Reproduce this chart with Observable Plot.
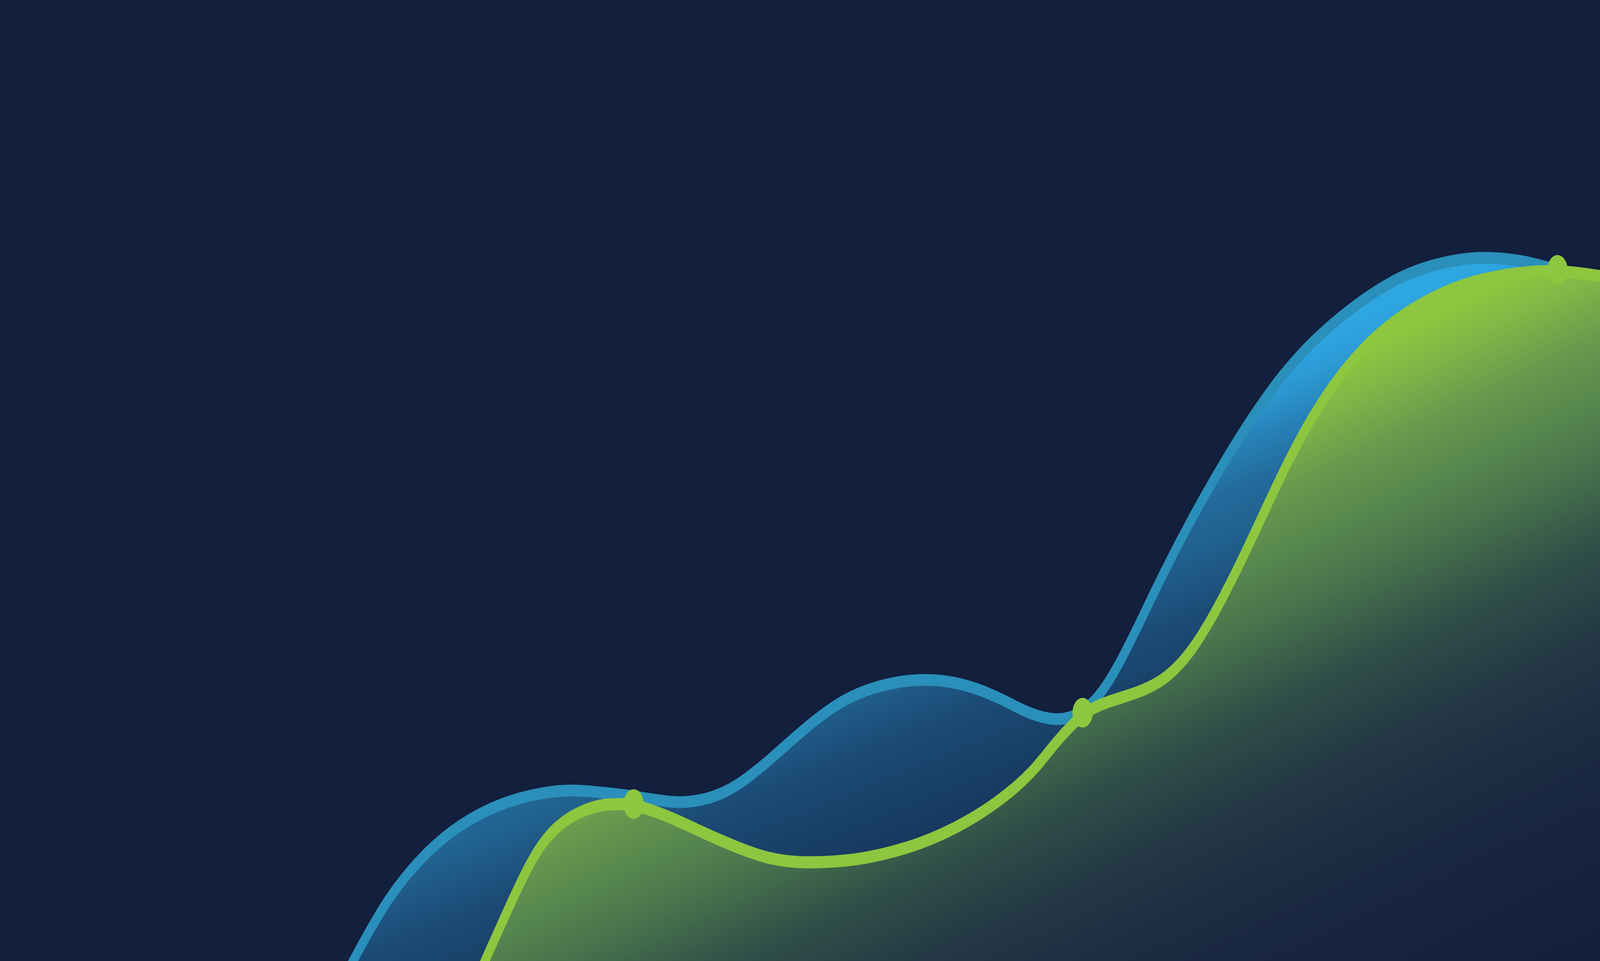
<!DOCTYPE html>
<html>
<head>
<meta charset="utf-8">
<script src="https://cdn.jsdelivr.net/npm/d3@7"></script>
<script src="https://cdn.jsdelivr.net/npm/@observablehq/plot@0.6"></script>
<style>
  html, body { margin: 0; padding: 0; width: 100%; height: 100%; background: #121f3d; overflow: hidden; }
  #chart { width: 100vw; height: 100vh; overflow: hidden; }
  #chart svg { display: block; width: 100vw; height: 100vh; max-width: none; }
</style>
</head>
<body>
<div id="chart"></div>
<script>
// Series "blue" (upper wave)
const blueX = [12.60, 13.27, 14.41, 15.69, 16.96, 18.24, 19.52, 20.79, 21.56, 22.50, 23.78, 25.43, 26.65, 27.60, 28.88, 30.15, 31.43, 32.50, 33.46, 34.67, 36.01, 37.28, 38.24, 38.88, 39.71, 40.47, 41.11, 41.75, 42.50, 43.62, 44.73, 45.85, 46.97, 48.08, 49.20, 50.32, 51.43, 52.55, 53.67, 54.78, 55.79, 57.02, 58.13, 60.01];
const blueY = [-3.25, 0.20, 6.06, 10.57, 13.70, 15.78, 17.08, 17.73, 17.81, 17.57, 17.20, 16.31, 16.92, 18.10, 20.94, 24.20, 26.92, 28.26, 29.00, 29.40, 29.00, 27.69, 26.27, 25.50, 25.01, 25.62, 27.17, 29.77, 33.79, 40.38, 46.28, 51.73, 56.73, 61.04, 64.46, 67.18, 69.46, 71.29, 72.43, 73.08, 73.28, 72.96, 72.18, 70.52];

// Series "green" (lower wave)
const greenX = [17.70, 18.18, 18.88, 19.52, 20.15, 20.79, 21.56, 22.50, 23.14, 23.76, 25.05, 26.33, 27.60, 28.88, 30.15, 31.43, 32.50, 34.41, 36.33, 37.92, 38.88, 39.51, 40.60, 41.43, 42.50, 43.62, 44.73, 45.85, 46.97, 48.08, 49.20, 50.32, 51.43, 52.55, 53.67, 54.78, 55.90, 57.02, 58.41, 60.01];
const greenY = [-2.97, 0, 4.35, 8.26, 11.63, 13.83, 15.37, 16.31, 16.35, 16.35, 15.13, 13.42, 11.87, 10.57, 10.21, 10.37, 10.70, 12.00, 14.48, 17.57, 20.17, 22.53, 25.86, 26.92, 27.78, 29.04, 32.21, 37.66, 44.04, 50.83, 56.73, 61.28, 64.70, 67.18, 69.01, 70.35, 71.17, 71.66, 71.94, 71.29];

// Highlighted points on the green series
const markX = [23.76, 40.60, 58.41];
const markY = [16.35, 25.86, 71.94];

const blue = blueX.map((x, i) => ({x, y: blueY[i]}));
const green = greenX.map((x, i) => ({x, y: greenY[i]}));
const marks = markX.map((x, i) => ({x, y: markY[i]}));

const curve = "basis";
const chart = Plot.plot({
  width: 6001,
  height: 2459,
  margin: 0,
  x: {domain: [0, 60.01], axis: null},
  y: {domain: [0, 100], axis: null},
  style: {background: "#121f3d", overflow: "hidden"},
  marks: [
    Plot.areaY(blue, {x: "x", y: "y", curve, fill: "url(#blueFill)", clip: true}),
    Plot.line(blue, {x: "x", y: "y", curve, stroke: "#2a8fba", strokeWidth: 30, clip: true}),
    Plot.areaY(green, {x: "x", y: "y", curve, fill: "url(#greenFill)", clip: true}),
    Plot.line(green, {x: "x", y: "y", curve, stroke: "#8dc63f", strokeWidth: 31, clip: true}),
    Plot.dot(marks, {x: "x", y: "y", r: 38, fill: "#8dc63f", stroke: "none"})
  ]
});

// gradients
const NS = "http://www.w3.org/2000/svg";
function gradient(id, p1, p2, stops) {
  const g = document.createElementNS(NS, "linearGradient");
  g.setAttribute("id", id);
  g.setAttribute("gradientUnits", "userSpaceOnUse");
  g.setAttribute("x1", p1[0]); g.setAttribute("y1", p1[1]);
  g.setAttribute("x2", p2[0]); g.setAttribute("y2", p2[1]);
  for (const [o, c] of stops) {
    const s = document.createElementNS(NS, "stop");
    s.setAttribute("offset", o);
    s.setAttribute("stop-color", c);
    g.appendChild(s);
  }
  return g;
}
const defs = document.createElementNS(NS, "defs");
defs.appendChild(gradient("blueFill", [576, 2070], [884, 3177], [
  [0, "#2ea6e0"], [0.07, "#2c9cd7"], [0.165, "#2782b8"], [0.26, "#236b9c"],
  [0.357, "#21618e"], [0.435, "#1e5581"], [0.504, "#1b4a74"], [0.713, "#173a60"], [1, "#142a4c"]
]));
defs.appendChild(gradient("greenFill", [751, 2280], [1314, 3990], [
  [0, "#8dc63f"], [0.028, "#8dc63f"], [0.083, "#80b747"], [0.167, "#68994d"], [0.25, "#56874e"],
  [0.333, "#47724c"], [0.389, "#3b604a"], [0.444, "#304f48"], [0.556, "#243a45"],
  [0.667, "#1d2e42"], [0.778, "#182640"], [1, "#13203d"]
]));
chart.insertBefore(defs, chart.firstChild);
// fill the whole window with the 6001×2459 drawing
chart.setAttribute("preserveAspectRatio", "none");

document.getElementById("chart").appendChild(chart);
</script>
</body>
</html>
